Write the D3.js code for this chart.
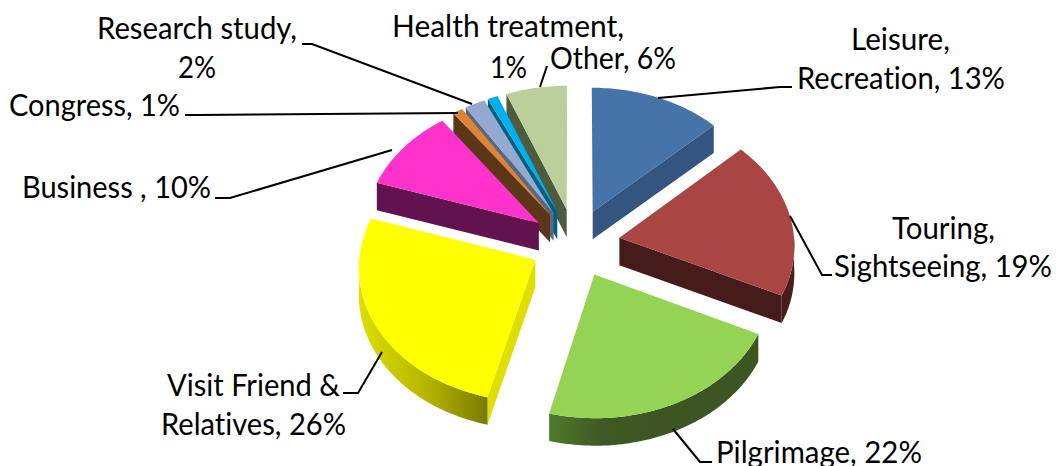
<!DOCTYPE html>
<html><head><meta charset="utf-8">
<script src="https://cdn.jsdelivr.net/npm/d3@7/dist/d3.min.js"></script>
<style>html,body{margin:0;padding:0;background:#fff;overflow:hidden}svg{display:block}text{font-family:Lato,"Open Sans",sans-serif;fill:#000;font-variant-ligatures:none}</style>
</head><body><svg id="c" width="1057" height="466"></svg>
<script>
const categories = ["Leisure, Recreation","Touring, Sightseeing","Pilgrimage","Visit Friend & Relatives","Business","Congress","Research study","Health treatment","Other"];
const values = [13,19,22,26,10,1,2,1,6];
const topColors = ["#4673A8","#A94643","#94D353","#FFFF00","#FF33CC","#DD843A","#93A9D1","#00B0EE","#BBCF9A"];
const endWallColors = ["#33557F","#451C1A","#3D5522","#7A7A00","#3A3A00","#5B3718","#59677F","#00607F","#4F5A3F"];
const startWallColors = ["#33557F","#451C1A","#3D5522","#DEDE00","#62124F","#5B3718","#59677F","#00607F","#4F5A3F"];
const outerStops = [["#33557F","#33557F"],["#451C1A","#4C1F1C"],["#4F7A2C","#3F5A24","#3D5522","#3D5522","#3D5522"],["#DEDE00","#B8B800","#7A7A00"],["#62124F","#62124F"],["#5B3718","#5B3718"],["#59677F","#59677F"],["#00607F","#00607F"],["#4F5A3F","#4F5A3F"]];
const drawOrder = [8,7,6,5,0,4,1,3,2];
const labelLines = [
 ["Leisure,","Recreation, 13%"],["Touring,","Sightseeing, 19%"],["Pilgrimage, 22%"],["Visit Friend &","Relatives, 26%"],
 ["Business , 10%"],["Congress, 1%"],["Research study,","2%"],["Health treatment,","1%"],["Other, 6%"]];
// layout: [left, right, baseline] per line
const labelBoxes = [
 [[851,950,50],[797,1005,89]],[[892,995,239],[834,1052,277]],[[716,922,463]],[[167,340,396],[161,346,435]],
 [[22,211,198]],[[9,180,116]],[[97,297,39],[178,216,78]],[[392,624,37],[490,527,78]],[[550,676,69]]];
const leaders = [
 [[658,98],[780,87],[792,87]],[[790,216],[822,275],[832,275]],[[673,429],[700,462],[712,462]],[[382,352],[358,393],[343,393]],
 [[392,150],[230,198],[215,198]],[[458,113],[197,115],[185,115]],[[472,104],[312,44],[302,44]],[],[[540,87],[547,66]]];

const cx=575, cy=243, R=175, tilt=0.765, persp=0.05, explode=45, depth=27.5, fontSize=30;
const svg=d3.select("#c");
const defs=svg.append("defs");
const arcs=d3.pie().sort(null).startAngle(0).endAngle(2*Math.PI)(values);
const rScale=d3.scaleLinear().domain([0,1]).range([0,R]);
const line=d3.line();
function project(u,v,z){const s=1+persp*v/R;return [cx+u*s, cy+tilt*v*s+z*depth];}
function pt(a,mid,rad,z){
  const e=explode;
  const u=e*Math.sin(mid)+rad*Math.sin(a), v=-e*Math.cos(mid)-rad*Math.cos(a);
  return project(u,v,z);
}
function sample(a0,a1){const n=Math.max(2,Math.ceil((a1-a0)/0.02));return d3.range(n+1).map(i=>a0+(a1-a0)*i/n);}
const rad=rScale(1);
drawOrder.forEach(i=>{
  const d=arcs[i], mid=(d.startAngle+d.endAngle)/2, g=svg.append("g").attr("class","slice");
  if(Math.sin(d.endAngle)>0.001){
    g.append("path").attr("fill",endWallColors[i]).attr("d",line([pt(0,mid,0,0),pt(d.endAngle,mid,rad,0),pt(d.endAngle,mid,rad,1),pt(0,mid,0,1)])+"Z");
  }
  if(Math.sin(d.startAngle)<-0.001){
    g.append("path").attr("fill",startWallColors[i]).attr("d",line([pt(0,mid,0,0),pt(d.startAngle,mid,rad,0),pt(d.startAngle,mid,rad,1),pt(0,mid,0,1)])+"Z");
  }
  const a0=Math.max(d.startAngle,Math.PI/2), a1=Math.min(d.endAngle,3*Math.PI/2);
  if(a1>a0){
    const id="w"+i, grad=defs.append("linearGradient").attr("id",id);
    const st=outerStops[i];
    st.forEach((c,k)=>grad.append("stop").attr("offset",k/(st.length-1)).attr("stop-color",c));
    const as=sample(a0,a1);
    const poly=as.map(a=>pt(a,mid,rad,0)).concat(as.slice().reverse().map(a=>pt(a,mid,rad,1)));
    g.append("path").attr("fill",`url(#${id})`).attr("d",line(poly)+"Z");
  }
  const top=[pt(0,mid,0,0)].concat(sample(d.startAngle,d.endAngle).map(a=>pt(a,mid,rad,0)));
  g.append("path").attr("fill",topColors[i]).attr("d",line(top)+"Z");
});
svg.append("g").selectAll("path").data(leaders.filter(l=>l.length)).join("path")
  .attr("fill","none").attr("stroke","#000").attr("stroke-width",2).attr("d",l=>line(l));
labelLines.forEach((lines,i)=>lines.forEach((t,j)=>{
  const b=labelBoxes[i][j];
  svg.append("text").attr("x",b[0]).attr("y",b[2]).attr("font-size",fontSize)
    .attr("textLength",b[1]-b[0]).attr("lengthAdjust","spacingAndGlyphs").text(t);
}));
</script></body></html>
